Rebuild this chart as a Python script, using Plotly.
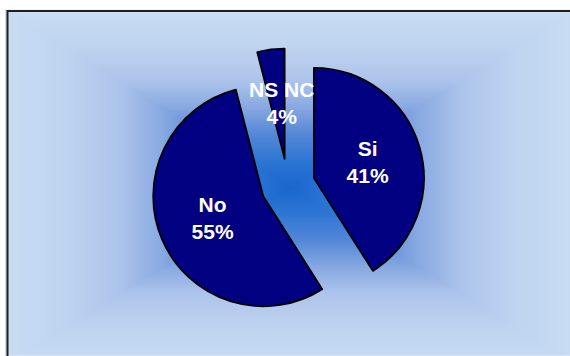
import numpy as np
import plotly.graph_objects as go

# Data
labels = ["Si", "No", "NS NC"]
values = [41, 55, 4]

W, H = 570, 356

# Background rectangular gradient (decorative)
gx = np.linspace(7, 573, 141)
gy = np.linspace(11, 363, 141)
cx, cy, ax_, ay_ = 290.0, 187.0, 283.0, 176.0
XX, YY = np.meshgrid(gx, gy)
Z = np.maximum(np.abs(XX - cx) / ax_, np.abs(YY - cy) / ay_)

bg_scale = [
    [0.0, "rgb(25,102,205)"],
    [0.15, "rgb(45,118,212)"],
    [0.3, "rgb(85,135,215)"],
    [0.45, "rgb(135,168,225)"],
    [0.6, "rgb(172,196,235)"],
    [0.8, "rgb(191,212,240)"],
    [1.0, "rgb(200,220,243)"],
]

fig = go.Figure()
fig.add_trace(go.Heatmap(
    x=gx, y=gy, z=Z, colorscale=bg_scale, zmin=0, zmax=1,
    zsmooth="best", showscale=False, hoverinfo="skip",
))

font_fam = "Arial, Liberation Sans, sans-serif"
positions = ["inside", "inside", "none"]
fig.add_trace(go.Pie(
    labels=labels, values=values, sort=False, direction="clockwise", rotation=0,
    pull=[0.245] * len(values),
    marker=dict(colors=["#000080"] * len(values), line=dict(color="#000000", width=1.8)),
    textinfo="label+percent", textposition=positions,
    insidetextorientation="horizontal",
    textfont=dict(family=font_fam, size=21, color="white", weight="bold"),
    domain=dict(x=[151 / W, 425 / W], y=[(H - 322.5) / H, (H - 48.5) / H]),
    showlegend=False, hoverinfo="skip",
))

total = sum(values)
fig.add_annotation(
    x=281 / W, y=(H - 103) / H, xref="paper", yref="paper",
    xanchor="center", yanchor="middle",
    text=f"{labels[2]}<br>{round(values[2] / total * 100)}%",
    showarrow=False,
    font=dict(family=font_fam, size=21, color="white", weight="bold"),
)

fig.add_shape(type="rect", xref="x", yref="y", x0=7.5, y0=11, x1=600, y1=400,
              line=dict(color="#1e1e1e", width=2), fillcolor="rgba(0,0,0,0)")

fig.update_xaxes(range=[0, W], visible=False, fixedrange=True)
fig.update_yaxes(range=[H, 0], visible=False, fixedrange=True)
fig.update_layout(
    width=W, height=H, margin=dict(l=0, r=0, t=0, b=0),
    paper_bgcolor="white", plot_bgcolor="white", showlegend=False,
)

fig.write_html("out.html")
